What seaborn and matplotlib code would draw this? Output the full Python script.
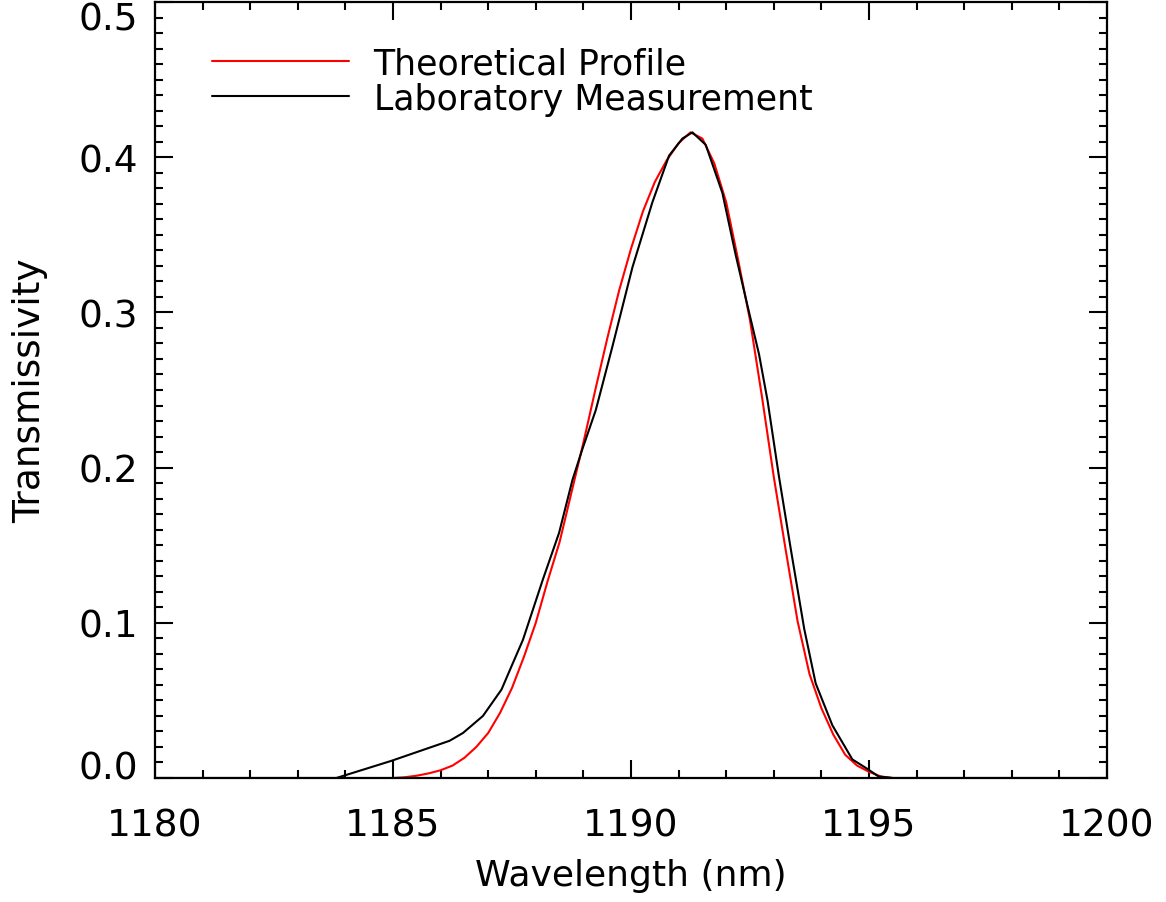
import matplotlib
matplotlib.use("Agg")
import matplotlib.pyplot as plt
from matplotlib.ticker import MultipleLocator, FormatStrFormatter
import seaborn as sns
import pandas as pd

# Theoretical filter transmission profile (nm, transmissivity)
theory_wl = [1180.0, 1185.00, 1185.25, 1185.50, 1185.75, 1186.00, 1186.25, 1186.50,
             1186.75, 1187.00, 1187.25, 1187.50, 1187.75, 1188.00, 1188.25, 1188.50,
             1188.75, 1189.00, 1189.25, 1189.50, 1189.75, 1190.00, 1190.25, 1190.50,
             1190.75, 1191.00, 1191.25, 1191.50, 1191.75, 1192.00, 1192.25, 1192.50,
             1192.75, 1193.00, 1193.25, 1193.50, 1193.75, 1194.00, 1194.25, 1194.50,
             1194.75, 1195.00, 1195.25, 1195.50, 1200.0]
theory_tr = [0.000, 0.000, 0.0005, 0.0015, 0.003, 0.005, 0.008, 0.013,
             0.020, 0.029, 0.042, 0.058, 0.078, 0.100, 0.127, 0.152,
             0.184, 0.216, 0.250, 0.283, 0.314, 0.341, 0.365, 0.384,
             0.398, 0.409, 0.416, 0.412, 0.396, 0.371, 0.334, 0.295,
             0.246, 0.194, 0.147, 0.101, 0.067, 0.045, 0.028, 0.015,
             0.008, 0.004, 0.001, 0.000, 0.000]

# Laboratory measurement of the same filter
lab_wl = [1180.0, 1183.81, 1184.96, 1186.19, 1186.47, 1186.89, 1187.28, 1187.49,
          1187.73, 1188.15, 1188.49, 1188.77, 1188.98, 1189.26, 1189.61, 1190.03,
          1190.45, 1190.80, 1191.08, 1191.29, 1191.57, 1191.92, 1192.20, 1192.45,
          1192.69, 1192.87, 1193.11, 1193.36, 1193.64, 1193.88, 1194.23, 1194.65,
          1194.96, 1195.20, 1195.50, 1200.0]
lab_tr = [0.000, 0.000, 0.011, 0.024, 0.029, 0.040, 0.057, 0.072,
          0.089, 0.128, 0.158, 0.192, 0.212, 0.237, 0.278, 0.329,
          0.371, 0.401, 0.412, 0.416, 0.408, 0.377, 0.337, 0.304,
          0.273, 0.243, 0.194, 0.147, 0.096, 0.061, 0.034, 0.012,
          0.006, 0.001, 0.000, 0.000]

series_labels = ["Theoretical Profile", "Laboratory Measurement"]
series_colors = ["#ff0000", "#000000"]

sns.set_style("ticks")
plt.rcParams["font.family"] = ["DejaVu Sans"]
plt.rcParams.update({
    "text.color": "black",
    "axes.labelcolor": "black",
    "xtick.color": "black",
    "ytick.color": "black",
    "axes.edgecolor": "black",
})

fig = plt.figure(figsize=(11.66, 9.03), dpi=100)
ax = fig.add_axes([0.1329, 0.1373, 0.8165, 0.8594])

theory = pd.DataFrame({"wl": theory_wl, "tr": theory_tr})
lab = pd.DataFrame({"wl": lab_wl, "tr": lab_tr})

sns.lineplot(data=theory, x="wl", y="tr", ax=ax, color=series_colors[0],
             linewidth=1.5, label=series_labels[0], sort=False, estimator=None)
sns.lineplot(data=lab, x="wl", y="tr", ax=ax, color=series_colors[1],
             linewidth=1.5, label=series_labels[1], sort=False, estimator=None)

ax.set_xlim(1180, 1200)
ax.set_ylim(0.0, 0.5)
ax.xaxis.set_major_locator(MultipleLocator(5))
ax.xaxis.set_minor_locator(MultipleLocator(1))
ax.yaxis.set_major_locator(MultipleLocator(0.1))
ax.yaxis.set_minor_locator(MultipleLocator(0.01))
ax.yaxis.set_major_formatter(FormatStrFormatter("%.1f"))
ax.xaxis.set_major_formatter(FormatStrFormatter("%d"))

for side in ["left", "right", "top", "bottom"]:
    ax.spines[side].set_visible(True)
    ax.spines[side].set_linewidth(1.6)
    ax.spines[side].set_color("black")

ax.tick_params(which="both", direction="in", top=True, right=True,
               color="black", width=1.5)
ax.tick_params(which="major", length=13, labelsize=27)
ax.tick_params(which="minor", length=6)
ax.tick_params(axis="x", which="major", pad=21)
ax.tick_params(axis="y", which="major", pad=12)

ax.set_xlabel("Wavelength (nm)", fontsize=26, labelpad=11)
ax.set_ylabel("Transmissivity", fontsize=27, labelpad=22)

# keep the end labels of the y axis inside the frame height
fig.canvas.draw()
y_lo, y_hi = ax.get_ylim()
for tick in ax.yaxis.get_major_ticks():
    loc = tick.get_loc()
    if abs(loc - y_lo) < 1e-9:
        tick.label1.set_verticalalignment("baseline")
    elif abs(loc - y_hi) < 1e-9:
        tick.label1.set_verticalalignment("top")

ax.legend(loc="upper left", bbox_to_anchor=(0.060, 0.943), frameon=False,
          fontsize=25, handlelength=3.95, handletextpad=0.7, labelspacing=0.04,
          borderpad=0, borderaxespad=0)

fig.savefig("out.png", dpi=100)
